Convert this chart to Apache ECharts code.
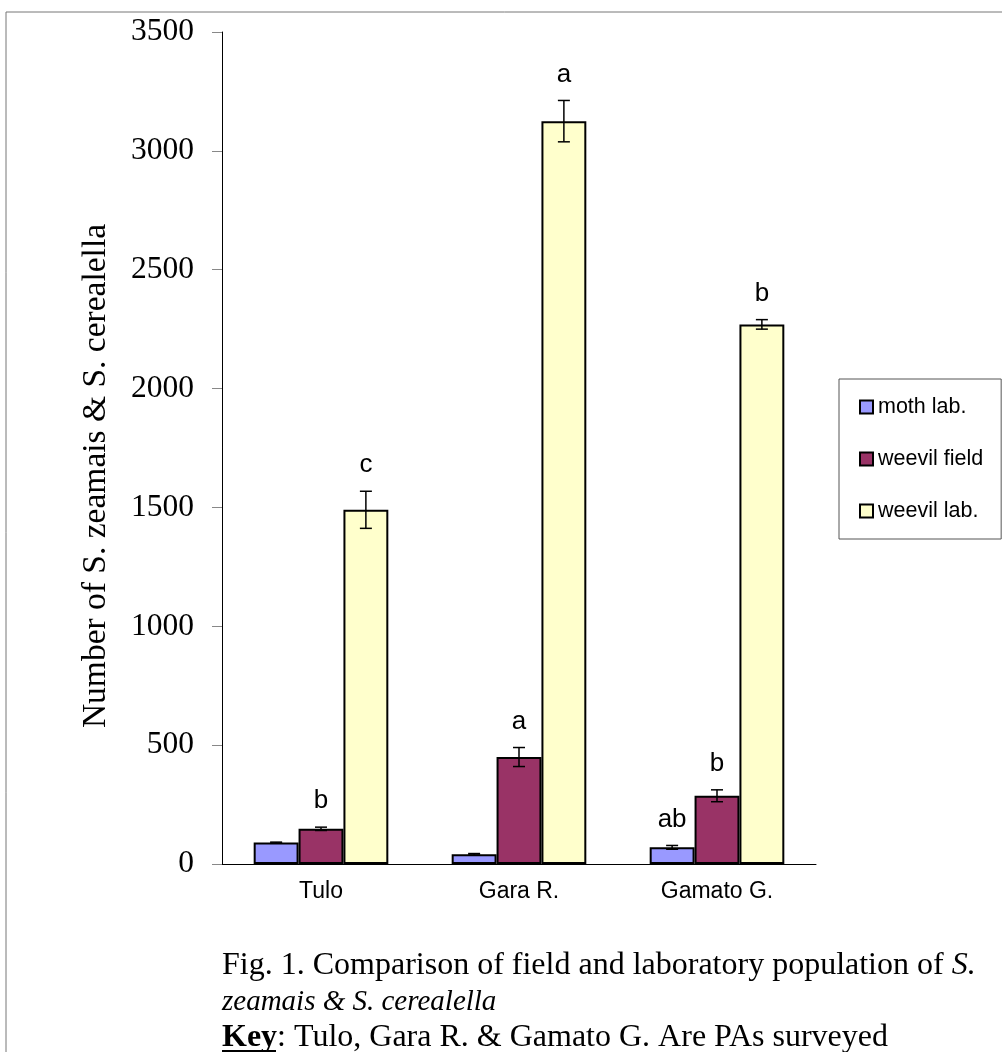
<!DOCTYPE html>
<html>
<head>
<meta charset="utf-8">
<script src="https://cdn.jsdelivr.net/npm/echarts@6/dist/echarts.min.js"></script>
<style>
html,body{margin:0;padding:0;background:#fff;}
#chart{width:1002px;height:1052px;}
</style>
</head>
<body>
<div id="chart"></div>
<script>
var categories = ['Tulo', 'Gara R.', 'Gamato G.'];
var seriesNames = ['moth lab.', 'weevil field', 'weevil lab.'];
var mothLab = [90, 41, 70];
var weevilField = [148, 450, 287];
var weevilLab = [1490, 3125, 2270];
var mothErr = [2, 3, 8];
var weevilFieldErr = [7, 40, 25];
var weevilLabErr = [78, 87, 20];
var mothLetters = ['', '', 'ab'];
var weevilFieldLetters = ['b', 'a', 'b'];
var weevilLabLetters = ['c', 'a', 'b'];
var yTicks = [0, 500, 1000, 1500, 2000, 2500, 3000, 3500];

var colors = ['#9999FF', '#993366', '#FFFFCC'];
var SANS = 'Liberation Sans';
var SERIF = 'Liberation Serif';
var GAP = 0.32;

function barSeries(name, values, color) {
  return {
    name: name, type: 'bar', data: values,
    barGap: '0%', barCategoryGap: (GAP * 100) + '%',
    itemStyle: { color: color, borderColor: '#000', borderWidth: 2 },
    z: 2
  };
}

function errSeries(k, values, errs, letters) {
  var data = values.map(function (v, i) { return [i, v, errs[i]]; });
  return {
    type: 'custom', coordinateSystem: 'cartesian2d', z: 5,
    encode: { x: 0, y: 1 },
    data: data,
    renderItem: function (params, api) {
      var ci = api.value(0), v = api.value(1), e = api.value(2);
      var band = api.size([1, 0])[0];
      var bw = band * (1 - GAP) / 3;
      var c = api.coord([ci, v]);
      var x = c[0] + (k - 1) * bw;
      var yt = api.coord([ci, v + e])[1];
      var yb = api.coord([ci, v - e])[1];
      var st = { stroke: '#000', lineWidth: 1.5 };
      var children = [
        { type: 'line', shape: { x1: x, y1: yt, x2: x, y2: yb }, style: st },
        { type: 'line', shape: { x1: x - 6, y1: yt, x2: x + 6, y2: yt }, style: st },
        { type: 'line', shape: { x1: x - 6, y1: yb, x2: x + 6, y2: yb }, style: st }
      ];
      var lt = letters[params.dataIndex];
      if (lt) {
        children.push({ type: 'text', style: { text: lt, x: x, y: yt - 26, align: 'center', verticalAlign: 'middle', fontFamily: SANS, fontSize: 26, fill: '#000' } });
      }
      return { type: 'group', children: children };
    }
  };
}

var chart = echarts.init(document.getElementById('chart'));
chart.setOption({
  animation: false,
  backgroundColor: '#fff',
  grid: { left: 222, right: 186, top: 32, bottom: 188, containLabel: false },
  legend: {
    data: seriesNames, orient: 'vertical', left: 839, top: 379,
    padding: [17, 18, 17, 20], itemGap: 30, itemWidth: 13, itemHeight: 13,
    borderColor: '#555', borderWidth: 1, icon: 'rect',
    textStyle: { fontFamily: SANS, fontSize: 21.5, color: '#000' }
  },
  xAxis: {
    type: 'category', data: categories,
    axisLine: { lineStyle: { color: '#000', width: 1 } },
    axisTick: { length: 8, lineStyle: { color: '#888' } },
    axisLabel: { fontFamily: SANS, fontSize: 23, color: '#000', margin: 16 }
  },
  yAxis: {
    type: 'value', min: 0, max: 3500, interval: 500,
    axisLine: { show: true, lineStyle: { color: '#000', width: 1 } },
    axisTick: { show: true, length: 10, lineStyle: { color: '#888' } },
    splitLine: { show: false },
    axisLabel: { fontFamily: SERIF, fontSize: 31.5, color: '#000', margin: 28,
      formatter: function (v) { return yTicks.indexOf(v) >= 0 ? String(v) : ''; } }
  },
  graphic: [
    { type: 'rect', shape: { x: 6, y: 12, width: 1200, height: 1200 }, style: { fill: 'none', stroke: '#777', lineWidth: 1 }, silent: true },
    { type: 'text', x: 96, y: 476, rotation: Math.PI / 2,
      style: { text: 'Number of S. zeamais & S. cerealella', align: 'center', verticalAlign: 'middle', fontFamily: SERIF, fontSize: 33.5, fill: '#000' } },
    { type: 'text', x: 222, y: 948,
      style: {
        text: 'Fig. 1. Comparison of field and laboratory population of {i1|S.}\n{i|zeamais & S. cerealella}\n{b|Key}: Tulo, Gara R. & Gamato G. Are PAs surveyed',
        fontFamily: SERIF, fontSize: 32, lineHeight: 36, fill: '#000', verticalAlign: 'top',
        rich: {
          i1: { fontFamily: SERIF, fontSize: 32, fontStyle: 'italic', lineHeight: 36, fill: '#000' },
          i: { fontFamily: SERIF, fontSize: 29, fontStyle: 'italic', lineHeight: 36, fill: '#000' },
          b: { fontFamily: SERIF, fontSize: 32, fontWeight: 'bold', lineHeight: 36, fill: '#000' }
        }
      } },
    { type: 'line', shape: { x1: 222, y1: 1051, x2: 276, y2: 1051 }, style: { stroke: '#000', lineWidth: 2 } }
  ],
  series: [
    barSeries(seriesNames[0], mothLab, colors[0]),
    barSeries(seriesNames[1], weevilField, colors[1]),
    barSeries(seriesNames[2], weevilLab, colors[2]),
    errSeries(0, mothLab, mothErr, mothLetters),
    errSeries(1, weevilField, weevilFieldErr, weevilFieldLetters),
    errSeries(2, weevilLab, weevilLabErr, weevilLabLetters)
  ]
});
</script>
</body>
</html>
